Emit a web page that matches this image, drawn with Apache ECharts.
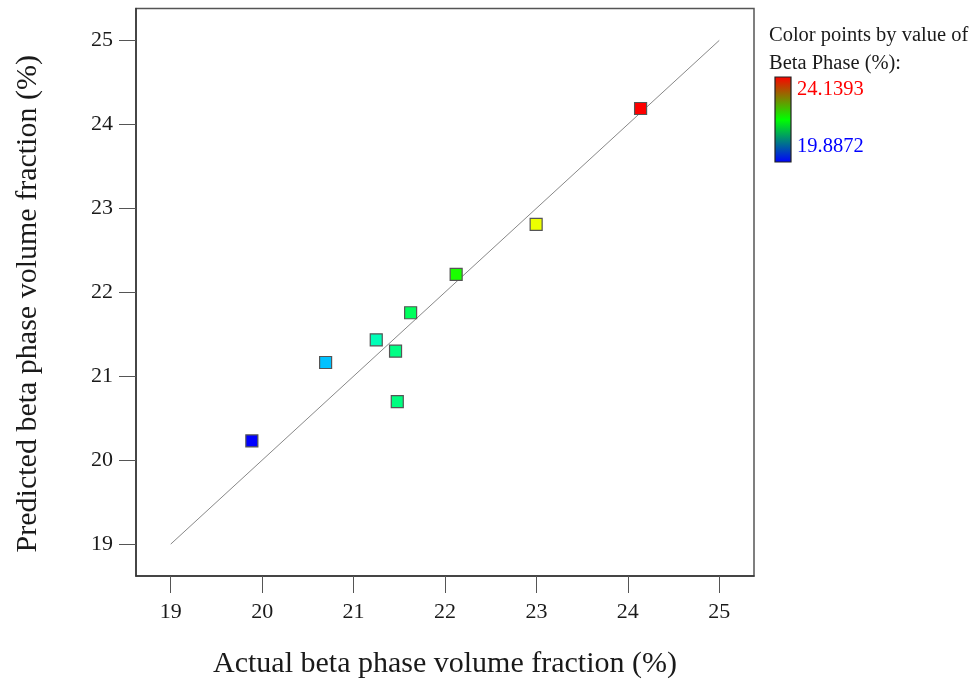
<!DOCTYPE html>
<html>
<head>
<meta charset="utf-8">
<title>Predicted vs Actual beta phase volume fraction</title>
<script src="https://cdn.jsdelivr.net/npm/echarts@6.0.0/dist/echarts.min.js"></script>
<style>
  html, body { margin: 0; padding: 0; background: #fff; }
  #chart { width: 976px; height: 680px; }
</style>
</head>
<body>
<div id="chart"></div>
<script>
// Actual (measured) vs model-predicted beta phase volume fraction, %
const actualBeta = [19.8872, 20.694, 21.248, 21.459, 21.478, 21.624, 22.122, 22.997, 24.1393];
const predictedBeta = [20.229, 21.163, 21.433, 21.298, 20.697, 21.756, 22.212, 22.809, 24.189];

// Axis ticks and the 1:1 reference line
const tickValues = [19, 20, 21, 22, 23, 24, 25];
const identityLine = [19, 25];

// Colour scale limits (Beta Phase %)
const colorMin = 19.8872;
const colorMax = 24.1393;

const serif = '"Liberation Serif", "DejaVu Serif", serif';

const chart = echarts.init(document.getElementById('chart'), null, { renderer: 'canvas' });

const points = actualBeta.map((a, i) => [a, predictedBeta[i]]);
const diag = identityLine.map(v => [v, v]);

const axisCommon = {
  type: 'value',
  min: 18.62,
  max: 25.38,
  splitLine: { show: false },
  axisLine: { show: true, onZero: false, lineStyle: { color: '#333', width: 1.5 } },
  axisTick: {
    show: true, inside: false, length: 17, customValues: tickValues,
    lineStyle: { color: '#555', width: 1 }
  },
  axisLabel: {
    customValues: tickValues,
    fontFamily: serif, fontSize: 22, color: '#1a1a1a'
  },
  nameLocation: 'middle',
  nameTextStyle: { fontFamily: serif, fontSize: 30, color: '#1a1a1a' }
};

chart.setOption({
  backgroundColor: '#fff',
  animation: false,
  grid: {
    left: 136, right: 222, top: 8.5, bottom: 104,
    outerBoundsMode: 'none',
    containLabel: false,
    show: true, borderColor: '#555', borderWidth: 1.5, backgroundColor: '#fff'
  },
  xAxis: Object.assign({}, axisCommon, {
    name: 'Actual beta phase volume fraction (%)',
    nameGap: 73,
    axisLabel: Object.assign({}, axisCommon.axisLabel, { margin: 25 })
  }),
  yAxis: Object.assign({}, axisCommon, {
    name: 'Predicted beta phase volume fraction (%)',
    nameGap: 93,
    nameTextStyle: Object.assign({}, axisCommon.nameTextStyle, { padding: [0, 23, 0, 0] }),
    axisLabel: Object.assign({}, axisCommon.axisLabel, { margin: 23 })
  }),
  visualMap: {
    show: false,
    type: 'continuous',
    seriesIndex: 1,
    dimension: 0,
    min: colorMin,
    max: colorMax,
    inRange: { color: ['#0000ff', '#00ffff', '#00ff00', '#ffff00', '#ff0000'] }
  },
  series: [
    {
      type: 'line',
      data: diag,
      symbol: 'none',
      silent: true,
      lineStyle: { color: '#888', width: 1 },
      z: 1
    },
    {
      type: 'scatter',
      data: points,
      symbol: 'rect',
      symbolSize: 12,
      itemStyle: { borderColor: '#555', borderWidth: 1.2, opacity: 1 },
      z: 3
    }
  ],
  graphic: [
    {
      type: 'text', x: 769, y: 35.5, style: {
        text: 'Color points by value of', fontFamily: serif, fontSize: 20.5,
        fill: '#1a1a1a', verticalAlign: 'middle'
      }
    },
    {
      type: 'text', x: 769, y: 63.5, style: {
        text: 'Beta Phase (%):', fontFamily: serif, fontSize: 20.5,
        fill: '#1a1a1a', verticalAlign: 'middle'
      }
    },
    {
      type: 'rect',
      shape: { x: 775, y: 77, width: 16, height: 85 },
      style: {
        fill: new echarts.graphic.LinearGradient(0, 0, 0, 1, [
          { offset: 0, color: '#ff0000' },
          { offset: 0.5, color: '#00ff00' },
          { offset: 1, color: '#0000ff' }
        ]),
        stroke: '#222', lineWidth: 1.2
      }
    },
    {
      type: 'text', x: 797, y: 89.5, style: {
        text: colorMax.toFixed(4), fontFamily: serif, fontSize: 20.5,
        fill: '#ff0000', verticalAlign: 'middle'
      }
    },
    {
      type: 'text', x: 797, y: 146.5, style: {
        text: colorMin.toFixed(4), fontFamily: serif, fontSize: 20.5,
        fill: '#0000ff', verticalAlign: 'middle'
      }
    }
  ]
});
</script>
</body>
</html>
